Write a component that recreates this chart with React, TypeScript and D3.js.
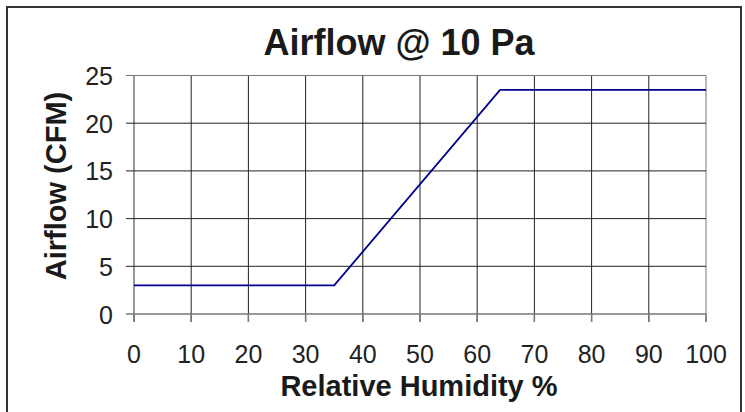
import React from "react";
import * as d3 from "d3";

const humidity = [0, 35, 64, 100];
const airflow = [3, 3, 23.5, 23.5];
const xTicks = [0, 10, 20, 30, 40, 50, 60, 70, 80, 90, 100];
const yTicks = [0, 5, 10, 15, 20, 25];
const title = "Airflow @ 10 Pa";
const xLabel = "Relative Humidity %";
const yLabel = "Airflow (CFM)";

export default function App() {
  const W = 745, H = 412;
  const L = 134, R = 706, T = 75.5, B = 314;
  const x = d3.scaleLinear().domain([0, 100]).range([L, R]);
  const y = d3.scaleLinear().domain([0, 25]).range([B, T]);
  const line = d3.line<number>().x((_, i) => x(humidity[i])).y((d) => y(d));
  const font = "Arial, 'Liberation Sans', Helvetica, sans-serif";
  return (
    <svg width={W} height={H} style={{ position: "absolute", left: 0, top: 0 }} fontFamily={font}>
      <rect x={0} y={0} width={W} height={H} fill="#fff" />
      <path d={`M7,${H + 5}V7H741V${H + 5}`} fill="none" stroke="#333" strokeWidth={2} />
      <text x={399} y={55} textAnchor="middle" fontSize={36} fontWeight="bold" fill="#1a1a1a">{title}</text>
      {xTicks.map((t) => (
        <line key={"gx" + t} x1={x(t)} x2={x(t)} y1={T} y2={B + 8} stroke={t === 0 || t === 100 ? "#777" : "#222"} strokeWidth={t === 0 ? 1.5 : 1} />
      ))}
      {yTicks.map((t) => (
        <line key={"gy" + t} x1={L - 8} x2={R} y1={y(t)} y2={y(t)} stroke={t === 25 || t === 0 ? "#777" : "#222"} strokeWidth={t === 0 ? 1.5 : 1} />
      ))}
      {xTicks.map((t) => (
        <line key={"tx" + t} x1={x(t)} x2={x(t)} y1={B} y2={B + 8} stroke="#777" strokeWidth={1.5} />
      ))}
      <path d={line(airflow) || ""} fill="none" stroke="#00008b" strokeWidth={1.8} />
      {xTicks.map((t) => (
        <text key={"lx" + t} x={x(t)} y={363} textAnchor="middle" fontSize={25} fill="#222">{t}</text>
      ))}
      {yTicks.map((t) => (
        <text key={"ly" + t} x={113} y={y(t) + 9.5} textAnchor="end" fontSize={25} fill="#222">{t}</text>
      ))}
      <text x={419} y={396} textAnchor="middle" fontSize={29} fontWeight="bold" fill="#1a1a1a">{xLabel}</text>
      <text transform={`translate(66,${186}) rotate(-90)`} textAnchor="middle" fontSize={29} fontWeight="bold" fill="#1a1a1a">{yLabel}</text>
    </svg>
  );
}
